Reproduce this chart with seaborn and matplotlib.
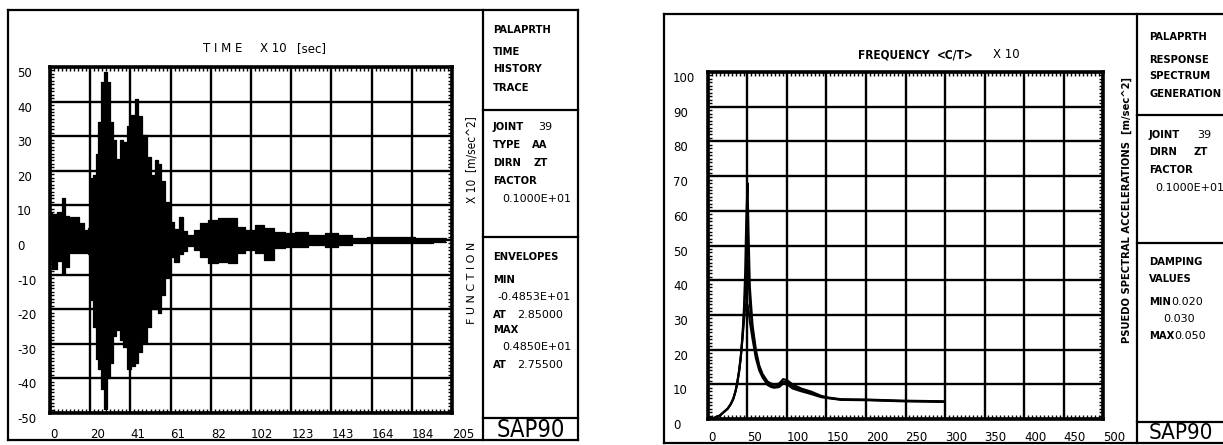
import numpy as np
import pandas as pd
import matplotlib
matplotlib.use("Agg")
import matplotlib.pyplot as plt
from matplotlib.ticker import MultipleLocator
import seaborn as sns

# ---------------- data: time history trace (envelope) -------------
time_x10 = [0, 2.4, 5, 7.1, 8.3, 10.9, 13.4, 16, 18.5, 20.2, 21.5, 22.8, 24, 25.3, 27,
            28.2, 29.6, 31.3, 33, 34.7, 36.4, 38.1, 40.6, 42.3, 44, 45.7, 48.3, 50.8,
            52.5, 54.2, 55.9, 57.6, 59.3, 61.9, 64.5, 67, 68.7, 71.4, 75, 78.2, 83.3,
            88.4, 93.5, 96.9, 102, 107, 111.4, 117.3, 122.4, 127.5, 136, 144.5, 149.6,
            158.1, 164.9, 173.4, 181.9, 190.4, 200.6, 202]
accel_upper = [7.8, 7.6, 8.1, 12, 7, 6.6, 6.6, 5, 3, 3.5, 18, 18.7, 25, 34, 45.6,
               48.5, 45.6, 34, 29, 23.5, 29, 28.3, 33, 36, 40.8, 35.7, 30.4, 24,
               18.7, 23, 22, 17, 11, 5.2, 3.3, 6.7, 2.6, 1.5, 3, 4.8, 5.8,
               6.3, 6.3, 3.9, 2.9, 4.3, 3.5, 2.4, 1.9, 2.4, 1.4, 1.9, 1.4,
               0.7, 1.0, 1.0, 0.8, 0.7, 0.7, 0.6]
accel_lower = [-5.5, -8.4, -6, -9.7, -7.7, -3.7, -3.7, -3.7, -3.7, -4, -17.2, -25, -34.5, -37.3, -43,
               -48.9, -40, -35.5, -27.8, -26, -29, -30.8, -37.3, -36.3, -35.5, -32.5, -29.5, -25,
               -20, -20, -21, -16, -11, -5, -6.5, -4, -3.2, -1.7, -3, -4.8, -6.7,
               -6.3, -6.7, -3.9, -2.9, -3.9, -5.8, -2.4, -1.9, -1.9, -1.4, -1.9, -1.4,
               -0.8, -1.0, -1.0, -1.0, -0.8, -0.6, -0.5]
time_tick_labels = ["0", "20", "41", "61", "82", "102", "123", "143", "164", "184", "205"]
accel_tick_labels = ["-50", "-40", "-30", "-20", "-10", "0", "10", "20", "30", "40", "50"]

# ---------------- data: response spectrum (three damping values) -------------------
freq_x10 = [0, 7.6, 15, 20, 25, 28.8, 32, 35, 37, 39.4, 41.5, 43.6, 45.5, 47, 48.5, 50,
            51.5, 53, 56.4, 60.6, 64.8, 69, 75.4, 80, 84, 90, 95, 100, 107, 117.8,
            130.5, 143, 151.7, 168.6, 202.5, 245, 275, 300]
psa_d020 = [0, 0.3, 1.0, 2.0, 3.0, 4.3, 5.8, 8.2, 10.5, 14, 18, 24, 32, 42, 58, 68,
            52, 38, 27, 20, 15.5, 13, 10.8, 10.2, 10.0, 10.2, 11.5, 11.2, 10, 8.8,
            7.9, 6.7, 6.2, 5.7, 5.6, 5.3, 5.2, 5.1]
psa_d030 = [0, 0.3, 1.0, 2.0, 3.0, 4.3, 5.8, 8.2, 10.5, 14, 18, 23.5, 30, 36, 44, 46,
            40, 33, 25.6, 19, 15, 12.6, 10.3, 9.6, 9.4, 9.6, 10.8, 10.6, 9.4, 8.4,
            7.5, 6.5, 6.1, 5.6, 5.5, 5.2, 5.1, 5.0]
psa_d050 = [0, 0.3, 1.0, 2.0, 3.0, 4.3, 5.8, 8.0, 10.2, 13.5, 17.5, 23, 28, 32, 33.5, 33,
            31, 28, 23, 17.5, 14, 12, 9.8, 9.2, 9.0, 9.2, 10.2, 10.0, 8.8, 8.0,
            7.2, 6.3, 6.0, 5.5, 5.4, 5.1, 5.0, 4.9]
damping_values = ["0.020", "0.030", "0.050"]
freq_tick_labels = ["0", "50", "100", "150", "200", "250", "300", "350", "400", "450", "500"]
psa_tick_labels = ["0", "10", "20", "30", "40", "50", "60", "70", "80", "90", "100"]

# ---------------- style --------------------------------------------------------------
sns.set_style("white")
plt.rcParams['font.family'] = ['DejaVu Sans']
plt.rcParams['text.color'] = 'black'
plt.rcParams['xtick.color'] = 'black'
plt.rcParams['ytick.color'] = 'black'
plt.rcParams['axes.labelcolor'] = 'black'
NARROW = ['DejaVu Sans']

W, H = 1223, 445
fig = plt.figure(figsize=(W / 100, H / 100), dpi=100)


def rect(x0, y0, x1, y1):
    return [x0 / W, 1 - y1 / H, (x1 - x0) / W, (y1 - y0) / H]


# overlay for frames and panel texts (pixel coordinates)
ov = fig.add_axes([0, 0, 1, 1])
ov.set_xlim(0, W)
ov.set_ylim(H, 0)
ov.axis('off')

FLW = 1.6


def hline(y, x0, x1):
    ov.plot([x0, x1], [y, y], color='black', lw=FLW, solid_capstyle='projecting')


def vline(x, y0, y1):
    ov.plot([x, x], [y0, y1], color='black', lw=FLW, solid_capstyle='projecting')


# left frame
hline(10, 8, 578); hline(440, 8, 578); vline(8, 10, 440); vline(578, 10, 440)
vline(483, 10, 440)
hline(110, 483, 578); hline(237, 483, 578); hline(418, 483, 578)
# right frame
hline(14, 664, 1226); hline(443, 664, 1226); vline(664, 14, 443)
vline(1137, 14, 443)
hline(115, 1137, 1226); hline(243, 1137, 1226); hline(422, 1137, 1226)


def word(x, y, s, size=8):
    ov.text(x, y, s, ha='left', va='center', fontsize=size, fontweight='bold',
            fontstretch='condensed', family=NARROW, color='black')


def num(x, y, s, size=8):
    ov.text(x, y, s, ha='left', va='center', fontsize=size, family=['DejaVu Sans'],
            color='black')


# left panel texts
word(493, 30, "PALAPRTH")
word(493, 52, "TIME"); word(493, 69, "HISTORY"); word(493, 88, "TRACE")
word(493, 127, "JOINT"); num(538, 127, "39")
word(493, 145, "TYPE"); word(532, 145, "AA")
word(493, 163, "DIRN"); word(533, 163, "ZT")
word(493, 181, "FACTOR"); num(502, 199, "0.1000E+01")
word(493, 257, "ENVELOPES")
word(493, 280, "MIN"); num(497, 297, "-0.4853E+01")
word(493, 315, "AT"); num(517, 315, "2.85000")
word(493, 330, "MAX"); num(502, 347, "0.4850E+01")
word(493, 365, "AT"); num(517, 365, "2.75500")
ov.text(531, 430, "SAP90", ha='center', va='center', fontsize=17,
        fontstretch='condensed', family=NARROW, color='black')

# right panel texts
word(1149, 37, "PALAPRTH")
word(1149, 60, "RESPONSE"); word(1149, 76, "SPECTRUM"); word(1149, 94, "GENERATION")
word(1149, 135, "JOINT"); num(1197, 135, "39")
word(1149, 152, "DIRN"); word(1194, 152, "ZT")
word(1149, 170, "FACTOR"); num(1155, 188, "0.1000E+01")
word(1149, 262, "DAMPING"); word(1149, 279, "VALUES")
word(1149, 302, "MIN"); num(1171, 302, damping_values[0])
num(1163, 319, damping_values[1])
word(1149, 336, "MAX"); num(1174, 336, damping_values[2])
ov.text(1149, 433, "SAP90", ha='left', va='center', fontsize=16,
        fontstretch='condensed', family=NARROW, color='black')

# titles
ov.text(203, 49, "T I M E", ha='left', va='center', fontsize=8.5, family=['DejaVu Sans'])
ov.text(260, 49, "X 10", ha='left', va='center', fontsize=8.5, family=['DejaVu Sans'])
ov.text(297, 49, "[sec]", ha='left', va='center', fontsize=8.5, family=['DejaVu Sans'])
ov.text(858, 55, "FREQUENCY", ha='left', va='center', fontsize=8.5, fontweight='bold',
        fontstretch='condensed', family=NARROW)
ov.text(937, 55, "<C/T>", ha='left', va='center', fontsize=8.5, fontweight='bold',
        fontstretch='condensed', family=NARROW)
ov.text(993, 55, "X 10", ha='left', va='center', fontsize=8.5, family=['DejaVu Sans'])

# rotated axis labels
ov.text(472, 160, "X 10  [m/sec^2]", rotation=90, ha='center', va='center',
        fontsize=8.5, family=NARROW, fontstretch='condensed')
ov.text(472, 283, "F U N C T I O N", rotation=90, ha='center', va='center',
        fontsize=8, family=['DejaVu Sans'])
ov.text(1127, 210, "PSUEDO SPECTRAL ACCELERATIONS  [m/sec^2]", rotation=90,
        ha='center', va='center', fontsize=8, family=NARROW, fontweight='bold',
        fontstretch='condensed')


def style_axes(ax, xminor, yminor, ypad_px, xpad_px):
    for s in ax.spines.values():
        s.set_visible(True)
        s.set_color('black')
        s.set_linewidth(2.6)
    ax.grid(True, which='major', color='black', lw=1.7)
    ax.xaxis.set_minor_locator(MultipleLocator(xminor))
    ax.yaxis.set_minor_locator(MultipleLocator(yminor))
    ax.tick_params(which='minor', direction='in', length=3, width=1,
                   top=True, right=True, bottom=True, left=True, color='black')
    ax.tick_params(which='major', direction='in', length=0, labelcolor='black')
    ax.tick_params(axis='y', which='major', pad=ypad_px * 0.72, labelsize=8.5)
    ax.tick_params(axis='x', which='major', pad=xpad_px * 0.72, labelsize=8.5)
    for lab in ax.get_yticklabels():
        lab.set_ha('left')
        lab.set_va('top')
    for lab in ax.get_xticklabels():
        lab.set_ha('left')
    ax.set_xlabel('')
    ax.set_ylabel('')


# ---------------- left: time history --------------------------------------------------
ax1 = fig.add_axes(rect(50, 67, 452, 413))
ax1.fill_between(time_x10, accel_lower, accel_upper, step='mid', color='black', lw=0)
sns.lineplot(x=time_x10, y=accel_upper, ax=ax1, color='black', lw=0.9, drawstyle='steps-mid')
sns.lineplot(x=time_x10, y=accel_lower, ax=ax1, color='black', lw=0.9, drawstyle='steps-mid')
ax1.set_xlim(0, 205)
ax1.set_ylim(-50, 50)
ax1.set_xticks(np.linspace(0, 205, len(time_tick_labels)))
ax1.set_xticklabels(time_tick_labels)
ax1.set_yticks(np.linspace(-50, 50, len(accel_tick_labels)))
ax1.set_yticklabels(accel_tick_labels)
style_axes(ax1, 205 / 100, 1, 33, 15)

# ---------------- right: response spectrum --------------------------------------------
spec = pd.DataFrame({
    'freq': freq_x10 * 3,
    'psa': psa_d020 + psa_d030 + psa_d050,
    'damping': [damping_values[0]] * len(freq_x10) + [damping_values[1]] * len(freq_x10)
               + [damping_values[2]] * len(freq_x10),
})
ax2 = fig.add_axes(rect(708, 72, 1103, 419))
sns.lineplot(data=spec, x='freq', y='psa', hue='damping', palette=['black'] * 3,
             lw=1.5, legend=False, ax=ax2, sort=False)
ax2.set_xlim(0, 500)
ax2.set_ylim(0, 100)
ax2.set_xticks(np.linspace(0, 500, len(freq_tick_labels)))
ax2.set_xticklabels(freq_tick_labels)
ax2.set_yticks(np.linspace(0, 100, len(psa_tick_labels)))
ax2.set_yticklabels(psa_tick_labels)
style_axes(ax2, 5, 1, 35, 12)

fig.savefig("out.png", dpi=100)
